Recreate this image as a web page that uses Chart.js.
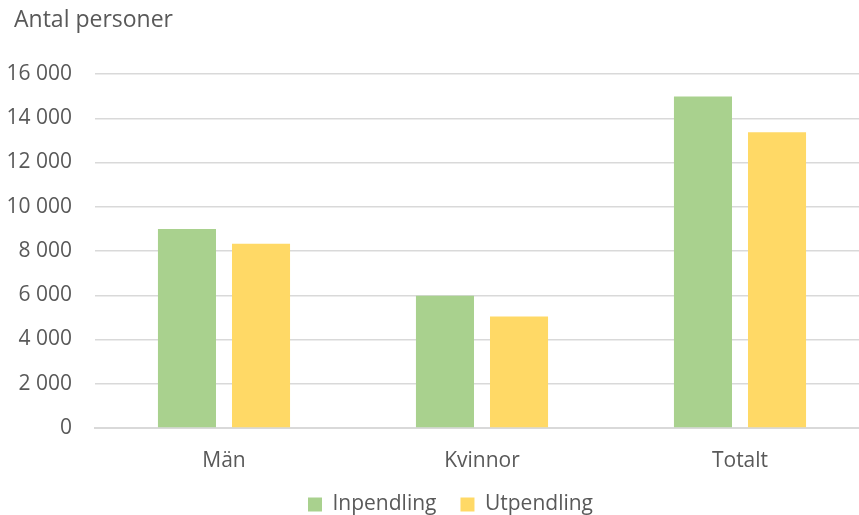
<!DOCTYPE html>
<html lang="sv">
<head>
<meta charset="utf-8">
<title>Pendling</title>
<script src="https://cdn.jsdelivr.net/npm/chart.js@4/dist/chart.umd.min.js"></script>
<style>
    html, body { margin: 0; padding: 0; background: #fff; }
    #wrap { width: 859px; height: 515px; overflow: hidden; }
</style>
</head>
<body>
<div id="wrap"><canvas id="pendlingChart" width="870" height="515"></canvas></div>
<script>
const kategorier = ["Män", "Kvinnor", "Totalt"];
const inpendling = [9000, 5980, 14980];
const utpendling = [8330, 5040, 13370];
const yMax = 16000;
const yStep = 2000;
const axelTitel = "Antal personer";

const textFarg = "#595959";
const typsnitt = "'Open Sans', sans-serif";

// skriver axelns rubrik uppe till vänster och flyttar förklaringen lite åt höger
const rubrikPlugin = {
    id: "rubrik",
    afterLayout(chart) {
        const lg = chart.legend;
        if (lg) {
            lg.left += 16;
            lg.right += 16;
        }
    },
    afterDraw(chart) {
        const ctx = chart.ctx;
        ctx.save();
        ctx.font = "23px " + typsnitt;
        ctx.fillStyle = textFarg;
        ctx.textAlign = "left";
        ctx.textBaseline = "alphabetic";
        ctx.fillText(axelTitel, 14, 27);
        ctx.restore();
    }
};

function formatera(v) {
    return String(v).replace(/\B(?=(\d{3})+(?!\d))/g, " ");
}

const ctx = document.getElementById("pendlingChart").getContext("2d");

new Chart(ctx, {
    type: "bar",
    data: {
        labels: kategorier,
        datasets: [
            {
                label: "Inpendling",
                data: inpendling,
                backgroundColor: "#A9D18E",
                categoryPercentage: 0.574,
                barPercentage: 0.784,
            },
            {
                label: "Utpendling",
                data: utpendling,
                backgroundColor: "#FFD966",
                categoryPercentage: 0.574,
                barPercentage: 0.784,
            },
        ],
    },
    options: {
        responsive: false,
        animation: false,
        layout: {
            padding: { left: 0, right: 1, top: 74, bottom: -10 },
        },
        scales: {
            x: {
                afterFit(axis) {
                    axis.height = 42;
                },
                grid: { display: false, drawTicks: false },
                border: { display: true, color: "#D9D9D9", width: 2 },
                ticks: {
                    color: textFarg,
                    font: { family: typsnitt, size: 21 },
                    padding: 20,
                },
            },
            y: {
                min: 0,
                max: yMax,
                afterFit(axis) {
                    axis.width = 95;
                },
                grid: { color: "#D9D9D9", lineWidth: 1.5, drawTicks: false },
                border: { display: false },
                ticks: {
                    stepSize: yStep,
                    color: textFarg,
                    font: { family: typsnitt, size: 21 },
                    padding: 23,
                    callback: (v) => formatera(v),
                },
            },
        },
        plugins: {
            legend: {
                position: "bottom",
                labels: {
                    color: textFarg,
                    font: { family: typsnitt, size: 21 },
                    boxWidth: 14,
                    boxHeight: 14,
                    padding: 24,
                },
            },
            tooltip: { enabled: false },
        },
    },
    plugins: [rubrikPlugin],
});
</script>
</body>
</html>
